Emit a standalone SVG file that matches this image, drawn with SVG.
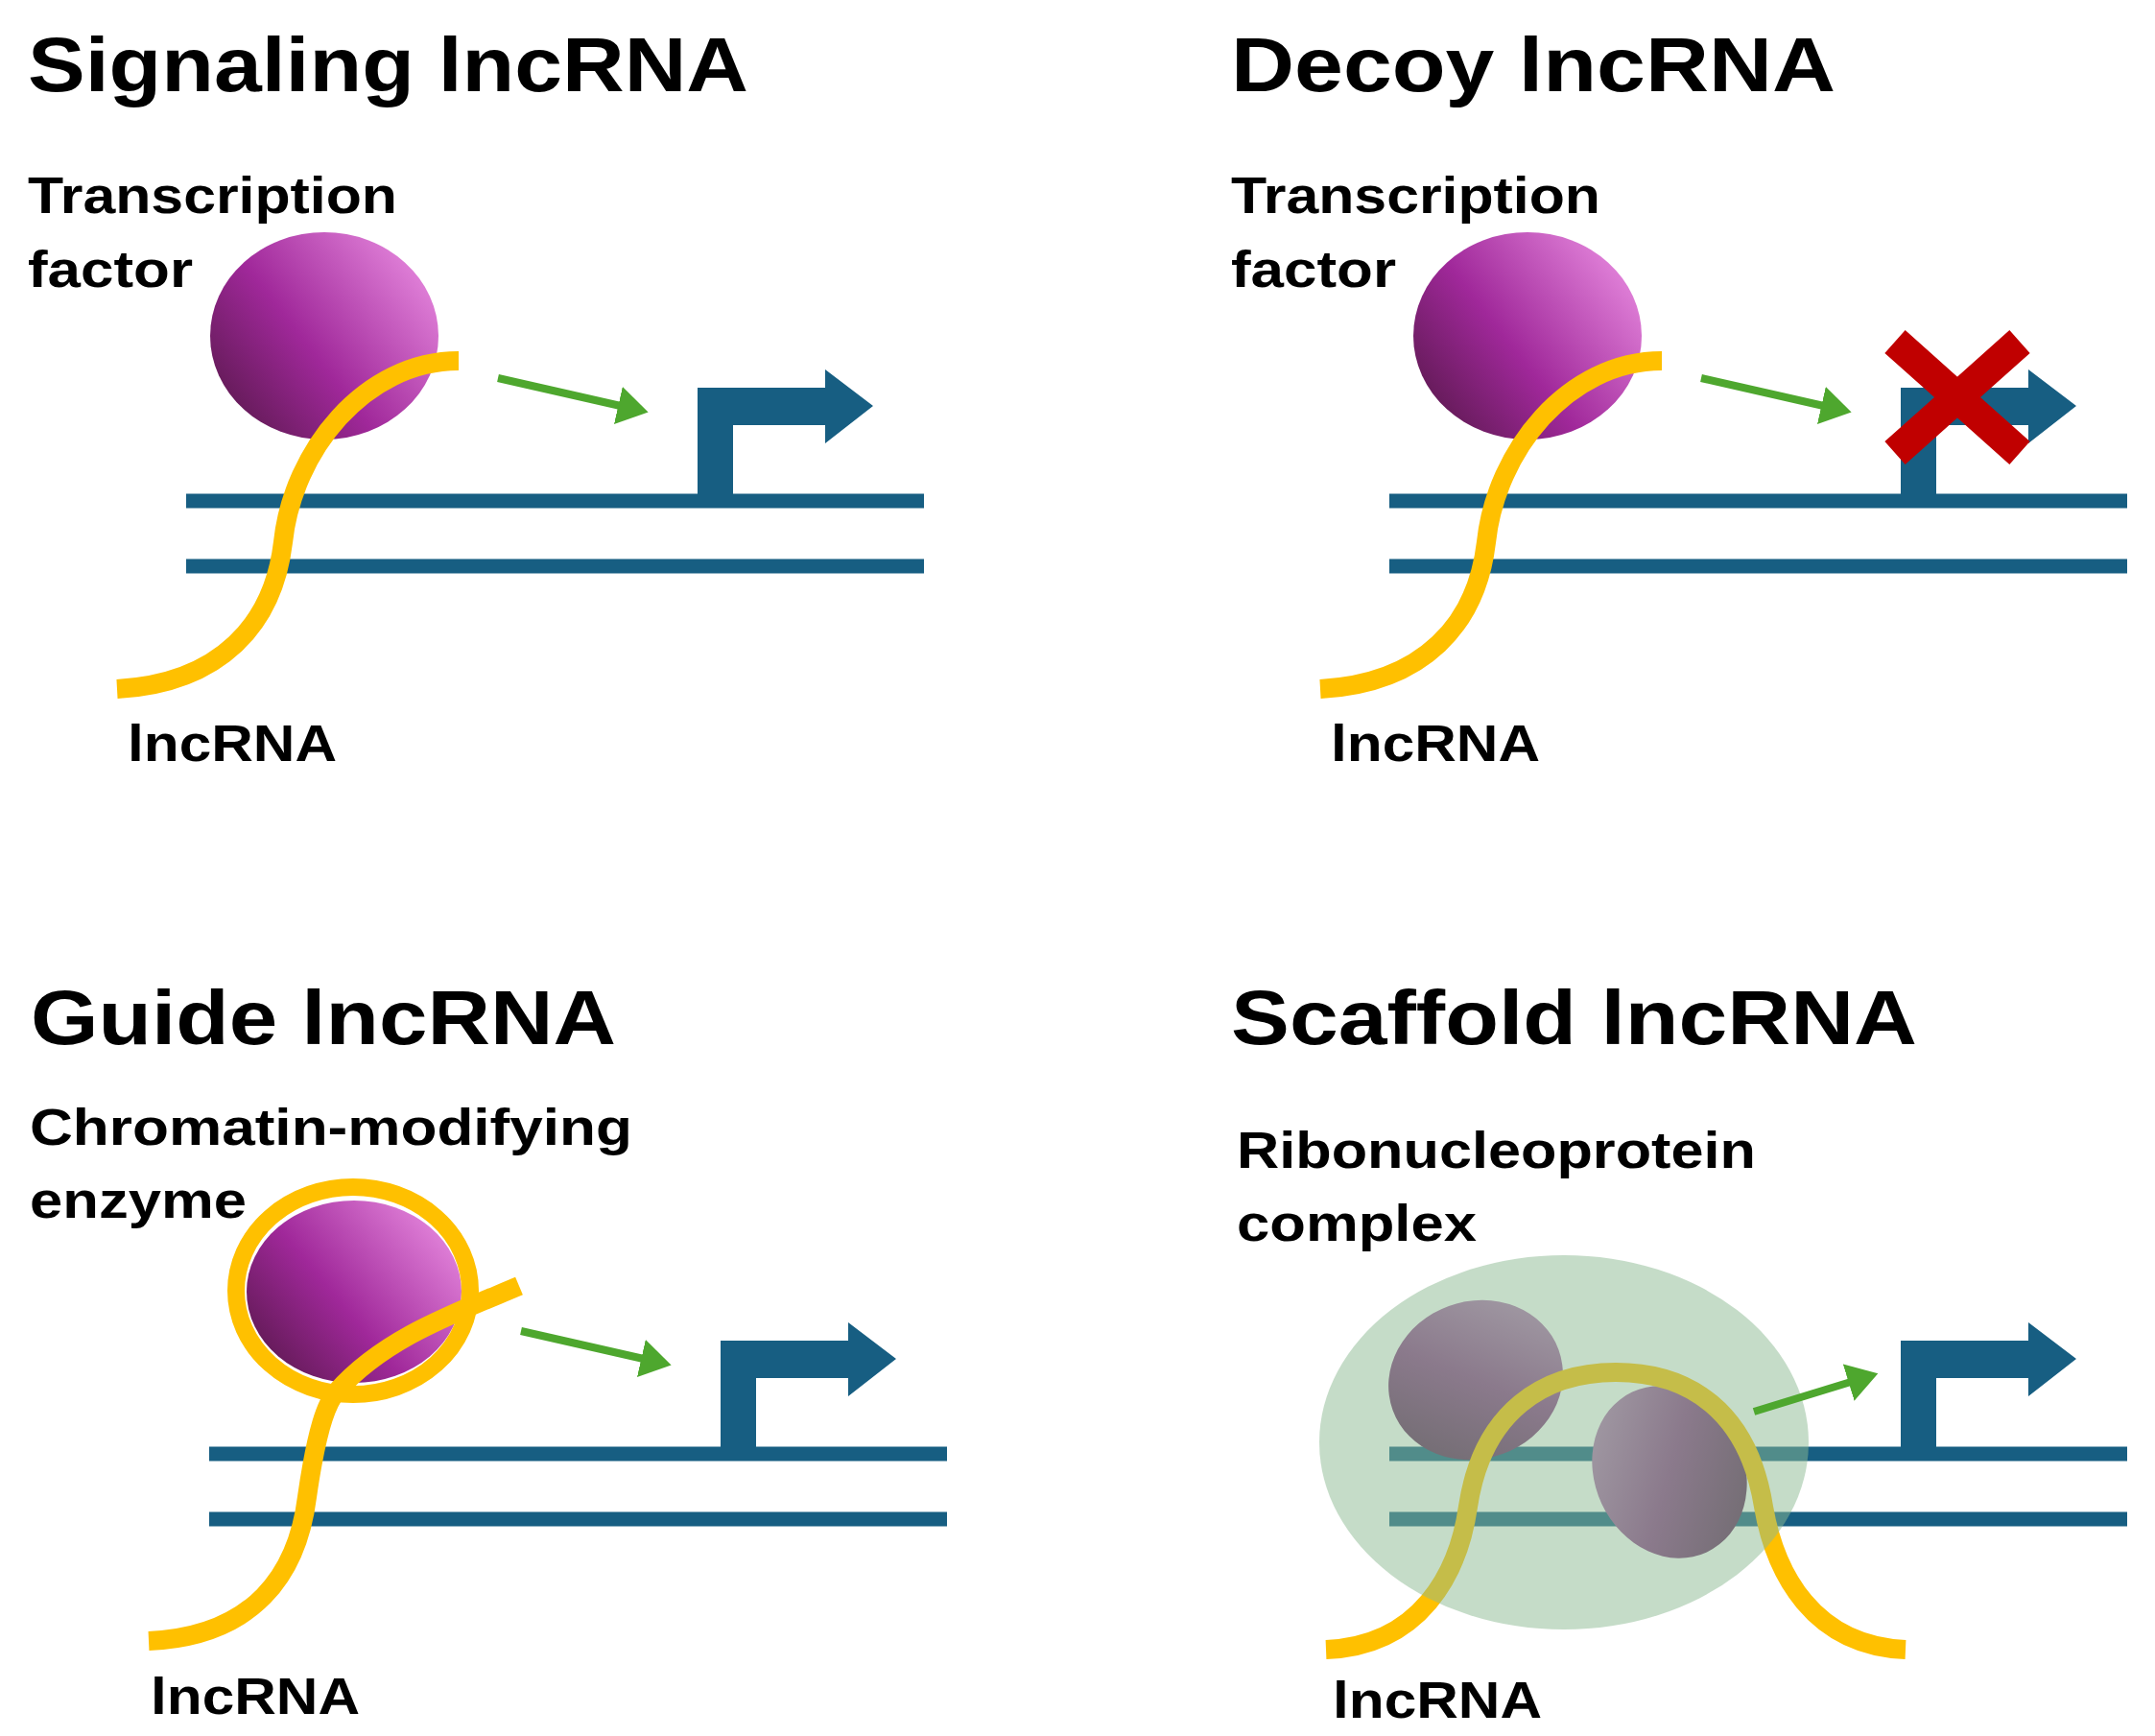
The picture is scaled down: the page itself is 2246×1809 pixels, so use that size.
<svg xmlns="http://www.w3.org/2000/svg" width="2246" height="1809" viewBox="0 0 2246 1809">
<style>
.t{font-family:"Liberation Sans",Arial,sans-serif;font-weight:bold;fill:#000}
.h{font-size:80px}.l{font-size:54px}
.dna{stroke:#175e82;stroke-width:15}
.rna{fill:none;stroke:#ffc000;stroke-width:20}
.ga{stroke:#4ea72e;stroke-width:8;marker-end:url(#ah)}
.pr{fill:#175e82}
</style>
<defs>
<marker id="ah" markerWidth="5" markerHeight="5" refX="2" refY="2.5" orient="auto" markerUnits="strokeWidth"><path d="M0,0L4,2.5L0,5Z" fill="#4ea72e"/></marker>
<linearGradient id="pg" x1="0" y1="1" x2="1" y2="0.3"><stop offset="0" stop-color="#4e1640"/><stop offset="0.5" stop-color="#a0289a"/><stop offset="1" stop-color="#e080d8"/></linearGradient>
<linearGradient id="pg2" x1="0" y1="1" x2="1" y2="0"><stop offset="0" stop-color="#4e1a48"/><stop offset="0.5" stop-color="#8a3a86"/><stop offset="1" stop-color="#c088c0"/></linearGradient>
<linearGradient id="pg3" x1="0" y1="0" x2="1" y2="1"><stop offset="0" stop-color="#c088c0"/><stop offset="0.5" stop-color="#8a3a86"/><stop offset="1" stop-color="#4e1a48"/></linearGradient>
<path id="prom" d="M727,522V404H860V385L910,423L860,462V443H764V522Z"/>
</defs>

<g id="signaling">
<text class="t h" x="29" y="95" textLength="751" lengthAdjust="spacingAndGlyphs">Signaling lncRNA</text>
<text class="t l" x="29" y="222" textLength="385" lengthAdjust="spacingAndGlyphs">Transcription</text>
<text class="t l" x="29" y="299" textLength="172" lengthAdjust="spacingAndGlyphs">factor</text>
<ellipse cx="338" cy="350" rx="119" ry="108" fill="url(#pg)"/>
<line class="dna" x1="194" y1="522" x2="963" y2="522"/>
<line class="dna" x1="194" y1="590" x2="963" y2="590"/>
<use href="#prom" class="pr"/>
<path class="rna" d="M122,718C230,712 285,650 295,565C305,470 380,376 478,376"/>
<text class="t l" x="133" y="793" textLength="218" lengthAdjust="spacingAndGlyphs">lncRNA</text>
</g>

<g id="decoy">
<text class="t h" x="1283" y="95" textLength="630" lengthAdjust="spacingAndGlyphs">Decoy lncRNA</text>
<text class="t l" x="1283" y="222" textLength="385" lengthAdjust="spacingAndGlyphs">Transcription</text>
<text class="t l" x="1283" y="299" textLength="172" lengthAdjust="spacingAndGlyphs">factor</text>
<ellipse cx="1592" cy="350" rx="119" ry="108" fill="url(#pg)"/>
<line class="dna" x1="1448" y1="522" x2="2217" y2="522"/>
<line class="dna" x1="1448" y1="590" x2="2217" y2="590"/>
<use href="#prom" class="pr" transform="translate(1254,0)"/>
<path class="rna" d="M1376,718C1484,712 1539,650 1549,565C1559,470 1634,376 1732,376"/>
<path d="M1975,356L2105,472M2105,356L1975,472" stroke="#c00000" stroke-width="32"/>
<text class="t l" x="1387" y="793" textLength="218" lengthAdjust="spacingAndGlyphs">lncRNA</text>
</g>

<g id="guide">
<text class="t h" x="32" y="1088" textLength="610" lengthAdjust="spacingAndGlyphs">Guide lncRNA</text>
<text class="t l" x="31" y="1193" textLength="628" lengthAdjust="spacingAndGlyphs">Chromatin-modifying</text>
<text class="t l" x="31" y="1269" textLength="226" lengthAdjust="spacingAndGlyphs">enzyme</text>
<ellipse cx="369" cy="1346" rx="112" ry="95" fill="url(#pg)"/>
<ellipse cx="368" cy="1345" rx="122" ry="108" fill="none" stroke="#ffc000" stroke-width="18"/>
<line class="dna" x1="218" y1="1515" x2="987" y2="1515"/>
<line class="dna" x1="218" y1="1583" x2="987" y2="1583"/>
<use href="#prom" class="pr" transform="translate(24,993)"/>
<path class="rna" d="M155,1710C265,1705 310,1640 320,1560C330,1490 340,1462 351,1450C400,1395 470,1370 541,1340"/>
<text class="t l" x="157" y="1786" textLength="218" lengthAdjust="spacingAndGlyphs">lncRNA</text>
</g>

<g id="scaffold">
<text class="t h" x="1283" y="1088" textLength="715" lengthAdjust="spacingAndGlyphs">Scaffold lncRNA</text>
<text class="t l" x="1289" y="1217" textLength="541" lengthAdjust="spacingAndGlyphs">Ribonucleoprotein</text>
<text class="t l" x="1289" y="1293" textLength="250" lengthAdjust="spacingAndGlyphs">complex</text>
<line class="dna" x1="1448" y1="1515" x2="2217" y2="1515"/>
<line class="dna" x1="1448" y1="1583" x2="2217" y2="1583"/>
<use href="#prom" class="pr" transform="translate(1254,993)"/>
<ellipse cx="1538" cy="1438" rx="92" ry="82" transform="rotate(-20 1538 1438)" fill="url(#pg2)"/>
<ellipse cx="1740" cy="1534" rx="78" ry="92" transform="rotate(-25 1740 1534)" fill="url(#pg3)"/>
<path class="rna" d="M1382,1719C1480,1715 1520,1640 1530,1570C1545,1470 1610,1430 1684,1430C1760,1430 1822,1470 1838,1570C1850,1640 1890,1715 1986,1719"/>
<ellipse cx="1630" cy="1503" rx="255" ry="195" fill="#8bb991" opacity="0.5"/>
<text class="t l" x="1389" y="1790" textLength="218" lengthAdjust="spacingAndGlyphs">lncRNA</text>
</g>

<g id="connectors">
<line class="ga" x1="519" y1="394" x2="660" y2="426"/>
<line class="ga" x1="1773" y1="394" x2="1914" y2="426"/>
<line class="ga" x1="543" y1="1387" x2="684" y2="1419"/>
<line class="ga" x1="1828" y1="1471" x2="1942" y2="1436"/>
</g>
</svg>
